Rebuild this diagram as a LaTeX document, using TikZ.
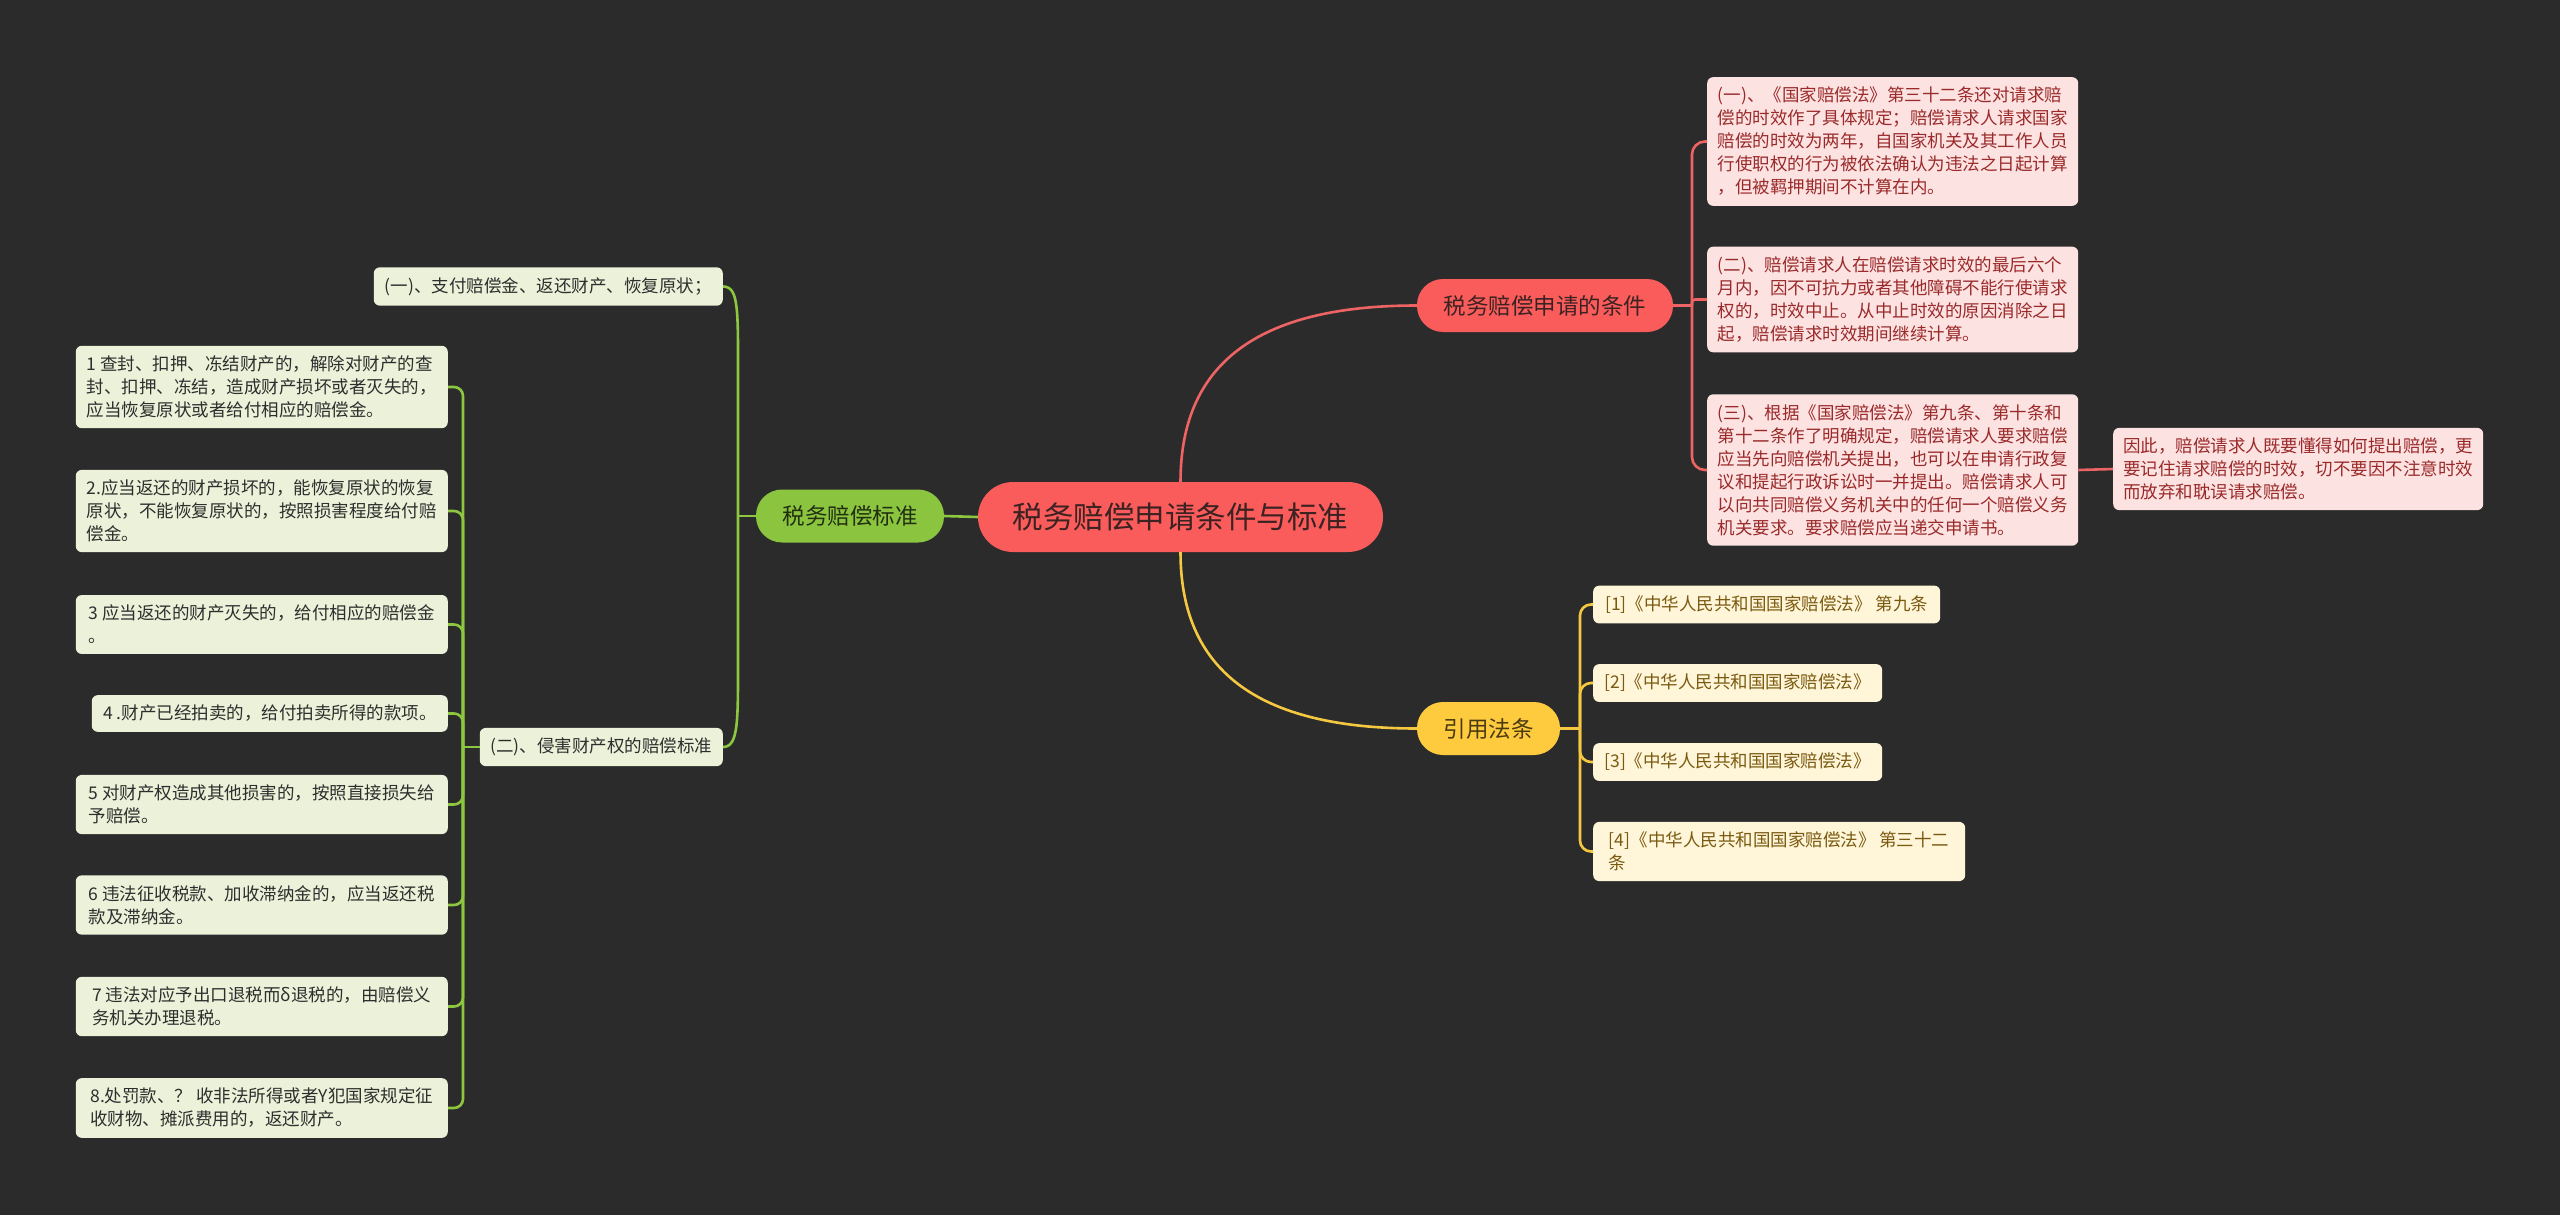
\documentclass[tikz,border=0pt]{standalone}
\usepackage{fontspec}
\setmainfont{Noto Sans CJK SC}
\definecolor{bg}{HTML}{2B2B2B}
\definecolor{rootfill}{HTML}{FA5C5C}
\definecolor{roottext}{HTML}{3D2222}
\definecolor{redline}{HTML}{EE6464}
\definecolor{redleaf}{HTML}{FDE2E2}
\definecolor{redtext}{HTML}{9A2A2A}
\definecolor{greenfill}{HTML}{8BC53F}
\definecolor{greentext}{HTML}{223010}
\definecolor{greenline}{HTML}{8DC63F}
\definecolor{greenleaf}{HTML}{EBF2D9}
\definecolor{greenleaftext}{HTML}{2E2E2E}
\definecolor{yellowfill}{HTML}{FECB3E}
\definecolor{yellowtext}{HTML}{4A3A10}
\definecolor{yellowline}{HTML}{F5C842}
\definecolor{yellowleaf}{HTML}{FFF5D9}
\definecolor{yellowleaftext}{HTML}{7A5A10}
\begin{document}
\begin{tikzpicture}[x=1pt,y=-1pt,
  rootnode/.style={fill=rootfill, text=roottext, minimum width=405pt, minimum height=70pt, rounded corners=35pt, inner sep=0pt, font=\fontsize{30.5}{34}\selectfont},
  branchnode/.style={rounded corners=26pt, minimum height=53pt, inner sep=0pt, font=\fontsize{22.5}{26}\selectfont},
  leafnode/.style={rounded corners=6pt, align=left, inner xsep=9pt, inner ysep=10pt, font=\fontsize{17.5}{23}\selectfont},
  rleaf/.style={leafnode, fill=redleaf, text=redtext},
  gleaf/.style={leafnode, fill=greenleaf, text=greenleaftext},
  yleaf/.style={leafnode, fill=yellowleaf, text=yellowleaftext},
  rline/.style={draw=redline, line width=2.6pt},
  gline/.style={draw=greenline, line width=2.6pt},
  yline/.style={draw=yellowline, line width=2.6pt}]
\fill[bg] (0,0) rectangle (2560,1215);
\useasboundingbox (0,0) rectangle (2560,1215);

% central and main branches
\node[rootnode] (root) at (1180.5,517) {税务赔偿申请条件与标准};
\node[branchnode, fill=rootfill, text=roottext, minimum width=256pt] (rb) at (1545,305.5) {税务赔偿申请的条件};
\node[branchnode, fill=yellowfill, text=yellowtext, minimum width=143pt] (yb) at (1488.5,728.5) {引用法条};
\node[branchnode, fill=greenfill, text=greentext, minimum width=188pt] (gb) at (850,516) {税务赔偿标准};

% red leaves
\node[rleaf, anchor=west, minimum width=371pt] (r1) at (1707,141.5) {(一)、《国家赔偿法》第三十二条还对请求赔\\偿的时效作了具体规定；赔偿请求人请求国家\\赔偿的时效为两年，自国家机关及其工作人员\\行使职权的行为被依法确认为违法之日起计算\\，但被羁押期间不计算在内。};
\node[rleaf, anchor=west, minimum width=371pt] (r2) at (1707,299.5) {(二)、赔偿请求人在赔偿请求时效的最后六个\\月内，因不可抗力或者其他障碍不能行使请求\\权的，时效中止。从中止时效的原因消除之日\\起，赔偿请求时效期间继续计算。};
\node[rleaf, anchor=west, minimum width=371pt] (r3) at (1707,470) {(三)、根据《国家赔偿法》第九条、第十条和\\第十二条作了明确规定，赔偿请求人要求赔偿\\应当先向赔偿机关提出，也可以在申请行政复\\议和提起行政诉讼时一并提出。赔偿请求人可\\以向共同赔偿义务机关中的任何一个赔偿义务\\机关要求。要求赔偿应当递交申请书。};
\node[rleaf, anchor=west, minimum width=370pt] (r4) at (2113,469) {因此，赔偿请求人既要懂得如何提出赔偿，更\\要记住请求赔偿的时效，切不要因不注意时效\\而放弃和耽误请求赔偿。};

% yellow leaves
\node[yleaf, anchor=west, minimum width=347pt] (y1) at (1593,604.5) {[1]《中华人民共和国国家赔偿法》 第九条};
\node[yleaf, anchor=west, minimum width=289pt] (y2) at (1593,683) {[2]《中华人民共和国国家赔偿法》};
\node[yleaf, anchor=west, minimum width=289pt] (y3) at (1593,762) {[3]《中华人民共和国国家赔偿法》};
\node[yleaf, anchor=west, minimum width=372pt] (y4) at (1593,851.5) {[4]《中华人民共和国国家赔偿法》 第三十二\\条};

% green sub-branches
\node[gleaf, anchor=east, minimum width=349pt] (g1) at (723,286.5) {(一)、支付赔偿金、返还财产、恢复原状；};
\node[gleaf, anchor=east, minimum width=243pt] (g2) at (723,747) {(二)、侵害财产权的赔偿标准};

% green leaves
\node[gleaf, anchor=east, minimum width=372pt] (l1) at (448,387) {1 查封、扣押、冻结财产的，解除对财产的查\\封、扣押、冻结，造成财产损坏或者灭失的，\\应当恢复原状或者给付相应的赔偿金。};
\node[gleaf, anchor=east, minimum width=372pt] (l2) at (448,511) {2.应当返还的财产损坏的，能恢复原状的恢复\\原状，不能恢复原状的，按照损害程度给付赔\\偿金。};
\node[gleaf, anchor=east, minimum width=372pt] (l3) at (448,624.5) {3 应当返还的财产灭失的，给付相应的赔偿金\\。};
\node[gleaf, anchor=east, minimum width=356pt] (l4) at (448,713.5) {4 .财产已经拍卖的，给付拍卖所得的款项。};
\node[gleaf, anchor=east, minimum width=372pt] (l5) at (448,804.5) {5 对财产权造成其他损害的，按照直接损失给\\予赔偿。};
\node[gleaf, anchor=east, minimum width=372pt] (l6) at (448,905) {6 违法征收税款、加收滞纳金的，应当返还税\\款及滞纳金。};
\node[gleaf, anchor=east, minimum width=372pt] (l7) at (448,1006.5) {7 违法对应予出口退税而δ退税的，由赔偿义\\务机关办理退税。};
\node[gleaf, anchor=east, minimum width=372pt] (l8) at (448,1108) {8.处罚款、？ 收非法所得或者Y犯国家规定征\\收财物、摊派费用的，返还财产。};

% junction coordinates
\coordinate (gj) at (738,516);
\coordinate (lt) at (463,747);
\coordinate (rt) at (1692,305.5);
\coordinate (yt) at (1580,728.5);

% connectors from root
\draw[gline] (root.west) -- (gb.east);
\draw[rline] (root.north) .. controls +(0,-125) and +(-150,0) .. (rb.west);
\draw[yline] (root.south) .. controls +(0,125) and +(-150,0) .. (yb.west);

% green branch
\draw[gline] (gb.west) -- (gj);
\draw[gline] (gj) -- (738,380) .. controls +(0,-70) and +(16,0) .. (g1.east);
\draw[gline] (gj) -- (738,650) .. controls +(0,70) and +(16,0) .. (g2.east);
\draw[gline] (g2.west) -- (lt);
\foreach \n in {l1,l2,l3,l4,l5,l6,l7,l8}
  \draw[gline, rounded corners=9pt] (lt) |- (\n.east);

% red branch
\draw[rline] (rb.east) -- (rt);
\draw[rline, rounded corners=13pt] (rt) |- (r1.west);
\draw[rline, rounded corners=3pt] (rt) |- (r2.west);
\draw[rline, rounded corners=13pt] (rt) |- (r3.west);
\draw[rline] (r3.east) -- (r4.west);

% yellow branch
\draw[yline] (yb.east) -- (yt);
\foreach \n in {y1,y2,y3,y4}
  \draw[yline, rounded corners=11pt] (yt) |- (\n.west);
\end{tikzpicture}
\end{document}
